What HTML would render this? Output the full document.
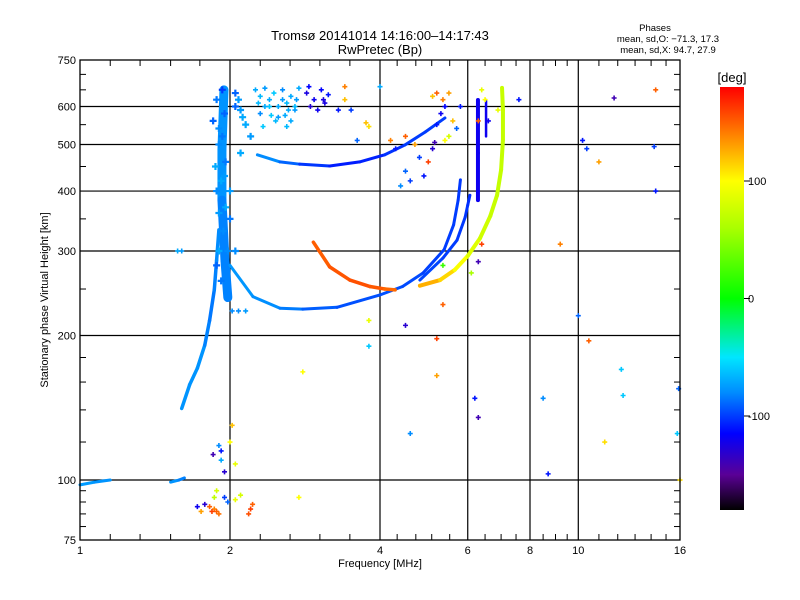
<!DOCTYPE html>
<html><head><meta charset="utf-8"><style>
body{margin:0;background:#fff;}
svg{display:block;font-family:"Liberation Sans",sans-serif;}
</style></head><body>
<svg id="c" width="800" height="600" viewBox="0 0 800 600">
<rect width="800" height="600" fill="#fff"/>
<text x="380" y="40" font-size="13" text-anchor="middle">Tromsø 20141014 14:16:00–14:17:43</text>
<text x="380" y="54" font-size="13" text-anchor="middle">RwPretec (Bp)</text>
<g font-size="9.5" text-anchor="middle">
<text x="655" y="31">Phases</text>
<text x="668" y="42">mean, sd,O: −71.3, 17.3</text>
<text x="668" y="53">mean, sd,X:  94.7, 27.9</text>
</g>
<text x="380" y="567" font-size="11" text-anchor="middle">Frequency [MHz]</text>
<text transform="translate(48,300) rotate(-90)" font-size="11" text-anchor="middle">Stationary phase Virtual Height [km]</text>
<g id="grid"></g>
<g id="marks"></g>
<rect x="80" y="60" width="600" height="480" fill="none" stroke="#000" stroke-width="1.3"/>
<g id="ticks"></g>
<defs><linearGradient id="cb" x1="0" y1="1" x2="0" y2="0">
</linearGradient></defs>
<rect x="720" y="87" width="24" height="423" fill="url(#cb)"/>
<text x="732" y="82" font-size="13" text-anchor="middle">[deg]</text>
<g id="cbt"></g>
</svg>
<script>
const ns="http://www.w3.org/2000/svg";
const xTicks=[1,2,4,6,8,10,16];
const xGrid=[2,4,6,8,10];
const yTicks=[75,100,200,300,400,500,600,750];
const yGrid=[100,200,300,400,500,600];
const xMinor=[1.15,1.32,1.52,1.74,2.3,2.64,3.03,3.48,4.33,4.72,5.08,5.52,6.5,7,7.5,8.5,9,9.5,11,12,13,14,15];
const yMinor=[80,85,90,95,120,140,160,180,250,350,450,550,650,700];
const cbTicks=[100,0,-100];

// traces: freq [MHz], height [km], phase [deg]
const oVertF=[1.945,1.927,1.927,1.954,1.98];
const oVertH=[650,487,383,287,240];
const oVertP=[-80,-75,-80,-85,-80];
const oCurveF=[2.0,2.224,2.52,2.80,3.28,4.0,4.44,4.88,5.38,5.62,5.74,5.80];
const oCurveH=[280,241,228,227,229,243,253,270,302,340,383,422];
const oCurveP=[-75,-78,-80,-88,-95,-95,-95,-98,-100,-100,-100,-102];
const o2F=[4.81,5.35,5.71,5.93,6.0,6.06];
const o2H=[261,290,316,353,374,392];
const o2P=[-95,-100,-100,-102,-102,-105];
const dbF=[6.29,6.29,6.29];
const dbH=[383,480,619];
const dbP=[-120,-120,-120];
const db2F=[6.53,6.53];
const db2H=[520,619];
const db2P=[-120,-120];
const legF=[1.60,1.66,1.72,1.78,1.82,1.86,1.88,1.90];
const legH=[141,158,171,191,215,249,287,332];
const legP=[-75,-80,-75,-80,-85,-85,-80,-80];
const upF=[2.27,2.52,2.76,3.17,3.64,4.09,4.49,4.93,5.40];
const upH=[476,460,455,451,460,476,499,531,568];
const upP=[-75,-85,-95,-108,-108,-105,-100,-100,-100];
const xoF=[2.94,3.17,3.48,3.82,4.09,4.29];
const xoH=[313,278,261,253,250,249];
const xoP=[150,152,155,155,150,145];
const xgF=[4.81,5.28,5.65,6.0,6.35,6.66,6.87,7.0,7.06,7.06,7.03];
const xgH=[254,261,274,293,319,355,392,443,511,590,656];
const xgP=[130,120,105,90,80,75,72,72,72,72,75];
const eF=[1.0,1.07,1.15];
const eH=[97.7,99,100];
const eP=[-75,-75,-80];
const e2F=[1.52,1.58,1.62];
const e2H=[99,100,101];
const e2P=[-75,-80,-85];
const blobF=[1.85,1.88,1.9,1.95,2.0,2.05,1.9,2.05,2.1,2.15,2.2,2.1,1.93,2.05,1.88,1.92,1.96,1.9,1.94,1.88,1.92,1.96,2.0,1.9,1.95,1.87,1.93,2.08,2.12,1.98];
const blobH=[560,620,500,430,350,300,300,600,590,550,520,480,650,640,400,420,460,360,330,280,260,370,400,540,580,450,520,620,570,300];
const blobP=[-90,-85,-80,-75,-85,-80,-70,-90,-75,-70,-75,-70,-100,-90,-80,-70,-85,-75,-80,-90,-85,-70,-75,-80,-90,-70,-85,-75,-70,-80];
const scF=[2.25,2.3,2.35,2.4,2.45,2.5,2.55,2.6,2.65,2.7,2.75,2.3,2.5,2.65,2.4,2.28,2.58,2.72,2.33,2.47,2.62,2.55,2.42,2.7,2.35,2.6,
2.85,2.95,3.05,3.1,2.9,3.15,3.0,2.88,3.08,
2.02,2.08,2.15,1.57,1.6,
1.82,1.86,1.88,1.9,1.84,2.2,2.22,2.18,1.72,1.78,1.75,1.95,1.98,2.05,2.1,1.86,1.88,1.92,1.92,1.95,1.9,2.02,2.0,2.05,2.75,1.85,
3.4,3.8,3.75,3.5,3.3,3.6,4.2,4.5,4.7,4.3,4.8,4.5,4.6,4.4,4.9,5.0,5.2,5.3,5.4,5.1,5.2,5.35,5.5,5.6,5.4,5.5,5.7,5.1,5.15,5.8,6.4,6.5,6.3,6.6,7.6,4.0,3.4,6.9,
10.2,10.4,11.0,11.8,14.3,14.2,14.3,9.2,6.4,10.0,10.5,12.2,12.3,15.9,15.8,11.3,8.7,8.5,6.2,6.3,4.6,5.2,5.2,4.5,3.8,3.8,2.8,5.35,6.1,6.3,5.35,16];
const scH=[650,630,655,620,640,600,650,610,630,590,655,580,570,560,600,610,575,620,545,560,590,620,575,600,600,545,
640,620,650,610,600,635,590,660,620,
225,225,225,300,300,
88,87,86,85,86,87,89,85,88,89,86,92,90,91,93,92,95,110,115,104,118,130,120,108,92,113,
620,545,555,590,590,510,510,520,500,490,470,440,420,410,430,460,550,580,600,630,640,620,640,560,510,520,540,490,505,600,650,620,560,560,620,660,660,590,
510,490,460,625,650,495,400,310,310,220,195,170,150,155,125,120,103,148,148,135,125,197,165,210,190,215,168,232,270,285,280,100];
const scP=[-70,-65,-75,-70,-60,-70,-80,-65,-70,-75,-70,-80,-75,-70,-60,-65,-70,-75,-60,-65,-70,-75,-60,-65,-70,-65,
-125,-120,-115,-125,-130,-110,-120,-115,-125,
-80,-80,-75,-70,-75,
150,140,150,145,160,160,150,155,-120,-130,130,-100,-90,90,80,70,80,-70,-110,-130,-80,120,100,90,100,-140,
120,110,120,-100,-110,-90,140,150,130,-110,-100,-90,-100,-80,-110,160,-110,-120,-115,120,150,140,130,120,100,80,-90,-130,-140,-110,90,100,150,-120,-110,-70,140,90,
-110,-100,130,-140,150,-100,-110,140,160,-90,150,-60,-60,-90,-60,110,-110,-80,-110,-140,-80,160,130,-130,-60,90,100,150,60,-140,20,110];

const X=f=>80+150*Math.log2(f);
const Y=h=>540-480*Math.log10(h/75);
const stops=[[-180,[0,0,0]],[-150,[90,0,150]],[-115,[0,0,255]],[-80,[0,140,255]],[-50,[0,230,255]],[0,[0,255,0]],[60,[170,255,0]],[100,[255,255,0]],[140,[255,128,0]],[180,[255,0,0]]];
function col(p){p=Math.max(-180,Math.min(180,p));for(let i=1;i<stops.length;i++){if(p<=stops[i][0]){const a=stops[i-1],b=stops[i],t=(p-a[0])/(b[0]-a[0]);return 'rgb('+a[1].map((v,k)=>Math.round(v+(b[1][k]-v)*t)).join(',')+')';}}return 'rgb(255,0,0)';}
function mk(tag,at,parent){const e=document.createElementNS(ns,tag);for(const k in at)e.setAttribute(k,at[k]);parent.appendChild(e);return e;}
const G=document.getElementById('grid'),M=document.getElementById('marks'),T=document.getElementById('ticks');
xGrid.forEach(f=>{const l=mk('line',{x1:X(f),x2:X(f),y1:60,y2:540,stroke:'#000','stroke-width':1.2},G);

});
yGrid.forEach(h=>{const l=mk('line',{x1:80,x2:680,y1:Y(h),y2:Y(h),stroke:'#000','stroke-width':1.2},G);

});
xMinor.forEach(f=>{mk('line',{x1:X(f),x2:X(f),y1:540,y2:534,stroke:'#000'},T);mk('line',{x1:X(f),x2:X(f),y1:60,y2:66,stroke:'#000'},T);});
yMinor.forEach(h=>{mk('line',{x1:80,x2:86,y1:Y(h),y2:Y(h),stroke:'#000'},T);mk('line',{x1:680,x2:674,y1:Y(h),y2:Y(h),stroke:'#000'},T);});
xTicks.forEach(f=>{const t=mk('text',{x:X(f),y:554,'font-size':11,'text-anchor':'middle'},T);t.textContent=f;

});
yTicks.forEach(h=>{const t=mk('text',{x:76,y:Y(h)+4,'font-size':11,'text-anchor':'end'},T);t.textContent=h;

});
function trace(F,H,P,w,name){F.forEach((f,i)=>{if(i==0)return;const l=mk('line',{x1:X(F[i-1]),y1:Y(H[i-1]),x2:X(f),y2:Y(H[i]),stroke:col((P[i-1]+P[i])/2),'stroke-width':w,'stroke-linecap':'round'},M);

});}
trace(oVertF,oVertH,oVertP,9,'o-trace-vertical');
trace(legF,legH,legP,3.5,'o-trace-low-leg');
trace(oCurveF,oCurveH,oCurveP,3,'o-trace-f2');
trace(o2F,o2H,o2P,3,'o-trace-f2-branch');
trace(dbF,dbH,dbP,4,'o-trace-high');
trace(db2F,db2H,db2P,2.5,'o-trace-high-2');
trace(upF,upH,upP,3,'o-trace-echo');
trace(xoF,xoH,xoP,3.5,'x-trace-low');
trace(xgF,xgH,xgP,4,'x-trace-f2');
trace(eF,eH,eP,3,'e-layer-trace');
trace(e2F,e2H,e2P,3,'e-layer-trace-2');
blobF.forEach((f,i)=>{const x=X(f),y=Y(blobH[i]);const p=mk('path',{d:`M${x-3.5} ${y}h7M${x} ${y-3.5}v7`,stroke:col(blobP[i]),'stroke-width':2.2},M);

});
scF.forEach((f,i)=>{const x=X(f),y=Y(scH[i]);const p=mk('path',{d:`M${x-2.5} ${y}h5M${x} ${y-2.5}v5`,stroke:col(scP[i]),'stroke-width':1.6},M);

});
const gr=document.getElementById('cb');
stops.forEach(s=>{mk('stop',{offset:(s[0]+180)/360,'stop-color':col(s[0])},gr);});
const CB=document.getElementById('cbt');
const cbY=p=>510-(p+180)/360*423;
cbTicks.forEach(p=>{mk('line',{x1:744,x2:750,y1:cbY(p),y2:cbY(p),stroke:'#000'},CB);const t=mk('text',{x:748,y:cbY(p)+4,'font-size':11},CB);t.textContent=p;

});
</script>
</body></html>
